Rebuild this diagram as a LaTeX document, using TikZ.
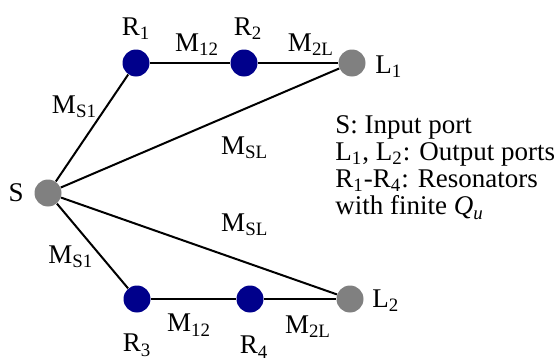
\documentclass[tikz,border=0pt]{standalone}
\usepackage{fontspec}
\setmainfont{Liberation Serif}
\usetikzlibrary{positioning}
\definecolor{resblue}{HTML}{00008B}
\definecolor{portgray}{HTML}{808080}

\begin{document}
\begin{tikzpicture}[
    x=0.5pt, y=0.5pt,
    font=\fontsize{13.5}{13}\selectfont,
    res/.style={circle, fill=resblue, minimum size=13.5pt, inner sep=0pt},
    port/.style={circle, fill=portgray, minimum size=13.5pt, inner sep=0pt},
    lbl/.style={inner sep=0pt},
    link/.style={line width=1pt}
  ]
    \useasboundingbox (0,0) rectangle (558,360);

    \node[port, label={[lbl, label distance=5pt]left:S}] (S) at (48,167) {};
    \node[res, label={[lbl, label distance=4.5pt]above:R\textsubscript{1}}] (R1) at (136,297) {};
    \node[res, label={[lbl, label distance=4.5pt, xshift=2pt]above:R\textsubscript{2}}] (R2) at (244,297) {};
    \node[port, label={[lbl, label distance=4.5pt, yshift=-2pt]right:L\textsubscript{1}}] (L1) at (352,297) {};
    \node[res, label={[lbl, label distance=10.5pt]below:R\textsubscript{3}}] (R3) at (137,61) {};
    \node[res, label={[lbl, label distance=11.5pt, xshift=2pt]below:R\textsubscript{4}}] (R4) at (250,61) {};
    \node[port, label={[lbl, label distance=4pt, yshift=-1pt]right:L\textsubscript{2}}] (L2) at (350,61) {};

    \draw[link] (S) -- node[lbl, pos=0.7, xshift=-16pt] (ms1a) {M\textsubscript{S1}} (R1);
    \draw[link] (S) -- node[lbl, pos=0.63, xshift=-15.5pt] (ms1b) {M\textsubscript{S1}} (R3);
    \draw[link] (S) -- node[lbl, pos=0.66, yshift=-19.5pt] (msla) {M\textsubscript{SL}} (L1);
    \draw[link] (S) -- node[lbl, pos=0.666, yshift=18.5pt] (mslb) {M\textsubscript{SL}} (L2);
    \draw[link] (R1) -- node[lbl, xshift=3.5pt, yshift=9pt] (m12a) {M\textsubscript{12}} (R2);
    \draw[link] (R2) -- node[lbl, xshift=6.5pt, yshift=9pt] (m2la) {M\textsubscript{2L}} (L1);
    \draw[link] (R3) -- node[lbl, xshift=-2.25pt, yshift=-13pt] (m12b) {M\textsubscript{12}} (R4);
    \draw[link] (R4) -- node[lbl, xshift=4pt, yshift=-14pt] (m2lb) {M\textsubscript{2L}} (L2);

    \node[lbl, anchor=north west, align=left, font=\fontsize{13.5}{13.6}\selectfont] (legend) at (335,245) {S: Input port\\L\textsubscript{1}, L\textsubscript{2}: Output ports\\R\textsubscript{1}-R\textsubscript{4}: Resonators\\with finite \textit{Q}\textsubscript{\textit{u}}};
\end{tikzpicture}
\end{document}
